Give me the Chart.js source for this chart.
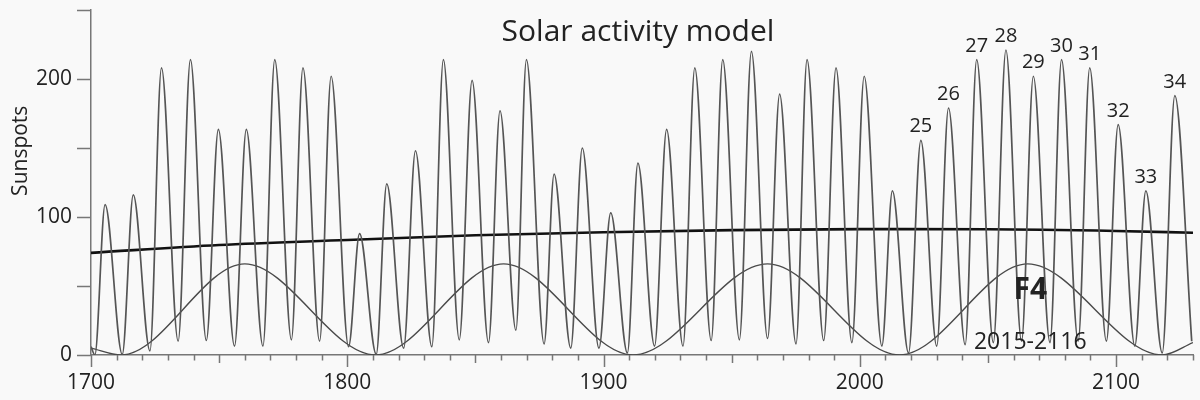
<!DOCTYPE html>
<html>
<head>
<meta charset="utf-8">
<script src="https://cdn.jsdelivr.net/npm/chart.js@4"></script>
<style>
  html, body { margin: 0; padding: 0; background: #f9f9f9; }
  #wrap { width: 1200px; height: 400px; position: relative; }
</style>
</head>
<body>
<div id="wrap"><canvas id="solar"></canvas></div>
<script>
// sunspot model: alternating minima / maxima
const sunYears = [
  1700, 1701.5, 1705.5, 1712.2, 1716.5, 1723, 1727.5, 1734, 1738.8, 1745,
  1749.7, 1756, 1760.6, 1767.1, 1771.7, 1778.2, 1782.7, 1789.2, 1793.7, 1800.5,
  1804.8, 1811.3, 1815.4, 1822, 1826.6, 1833, 1837.5, 1843.7, 1848.7, 1855.1,
  1859.6, 1865.8, 1869.9, 1876.8, 1880.7, 1887.2, 1891.7, 1898.2, 1902.8, 1909.3,
  1913.4, 1919.9, 1924.6, 1931, 1935.6, 1942, 1946.5, 1953, 1957.7, 1964,
  1968.7, 1975.1, 1979.4, 1985.9, 1990.7, 1996.9, 2001.7, 2008.6, 2012.7, 2019,
  2023.8, 2030, 2034.6, 2041.1, 2045.6, 2052.1, 2057, 2063.1, 2067.7, 2074.2,
  2078.7, 2085.2, 2089.7, 2096.2, 2100.8, 2107.3, 2111.6, 2118, 2122.9, 2129.5
];
const sunValues = [
  6, 0, 109, 0.5, 116, 3, 208, 10, 214, 10.5,
  163.5, 6.5, 163.5, 6.5, 214, 11, 208, 10, 202, 6,
  88, 0.5, 124, 5, 148, 6, 214, 11, 199, 9,
  177, 18, 214, 8, 131, 5, 150, 5, 103, 1.5,
  139, 6.5, 163.5, 6.5, 208, 10.5, 214, 11, 220, 12,
  189, 8, 214, 10.5, 208, 9, 202, 6.5, 119, 1.5,
  155.5, 6.5, 179, 7.5, 214, 9, 221, 10, 202, 9,
  214, 10, 208, 10, 167, 6.5, 119, 1.5, 188, 10
];

// slow trend
const trendYears  = [1700, 1750, 1800, 1850, 1900, 1950, 2000, 2050, 2100, 2130];
const trendValues = [74, 79.7, 83.3, 86.8, 89, 90.5, 91.2, 91.1, 89.9, 88.6];

// F4 long cycle
const f4Years  = [1700, 1711.8, 1760, 1811, 1861, 1911.5, 1964, 2015.5, 2065.5, 2118, 2130];
const f4Values = [5, 0, 66, 0, 66, 0, 66, 0, 66, 0, 9];

// numbered cycles 25..34
const cycleNames = ['25', '26', '27', '28', '29', '30', '31', '32', '33', '34'];
const cycleYears = [2023.8, 2034.6, 2045.6, 2057, 2067.7, 2078.7, 2089.7, 2100.8, 2111.6, 2122.9];

const xTicksLabelled = [1700, 1800, 1900, 2000, 2100];
const yTicksLabelled = [0, 100, 200];

const FONT = "'Open Sans', sans-serif";
const INK  = '#222';
const AXIS = '#777';

const pts = (xs, ys) => xs.map((x, i) => ({ x, y: ys[i] }));

// background + hand-drawn tick marks (length varies per tick)
const frame = {
  id: 'frame',
  beforeDraw(chart) {
    const { ctx, width, height } = chart;
    ctx.save();
    ctx.fillStyle = '#f9f9f9';
    ctx.fillRect(0, 0, width, height);
    ctx.restore();
  },
  afterDraw(chart) {
    const { ctx, scales: { x, y }, chartArea } = chart;
    ctx.save();
    ctx.strokeStyle = AXIS;
    ctx.lineWidth = 1.5;
    ctx.beginPath();
    x.ticks.forEach(t => {
      const px = Math.round(x.getPixelForValue(t.value)) + 0.5;
      const len = t.value % 100 === 0 ? 12 : (t.value % 50 === 0 ? 8 : 5.5);
      ctx.moveTo(px, chartArea.bottom);
      ctx.lineTo(px, chartArea.bottom + len);
    });
    y.ticks.forEach(t => {
      const py = Math.round(y.getPixelForValue(t.value)) + 0.5;
      ctx.moveTo(chartArea.left, py);
      ctx.lineTo(chartArea.left - 14, py);
    });
    ctx.stroke();

    // texts
    ctx.fillStyle = INK;
    ctx.textAlign = 'center';
    ctx.textBaseline = 'alphabetic';
    ctx.font = `30px ${FONT}`;
    ctx.fillText('Solar activity model', 638, 41);

    ctx.font = `20px ${FONT}`;
    cycleNames.forEach((n, i) => {
      const k = sunYears.indexOf(cycleYears[i]);
      const px = x.getPixelForValue(cycleYears[i]);
      const py = y.getPixelForValue(sunValues[k]);
      ctx.fillText(n, px, py - 8);
    });

    ctx.font = `bold 30px ${FONT}`;
    ctx.textBaseline = 'middle';
    ctx.fillText('F4', x.getPixelForValue(2066.5), y.getPixelForValue(47));
    ctx.font = `23px ${FONT}`;
    ctx.fillText('2015-2116', x.getPixelForValue(2066.5), y.getPixelForValue(9));

    // y title, centred on the 150 tick
    ctx.save();
    ctx.translate(21, y.getPixelForValue(148));
    ctx.rotate(-Math.PI / 2);
    ctx.font = `21px ${FONT}`;
    ctx.fillText('Sunspots', 0, 0);
    ctx.restore();
    ctx.restore();
  }
};

new Chart(document.getElementById('solar'), {
  type: 'line',
  plugins: [frame],
  data: {
    datasets: [
      {
        label: 'Sunspots',
        data: pts(sunYears, sunValues),
        borderColor: '#555',
        borderWidth: 1.7,
        pointRadius: 0,
        cubicInterpolationMode: 'monotone',
      },
      {
        label: 'F4',
        data: pts(f4Years, f4Values),
        borderColor: '#4a4a4a',
        borderWidth: 1.4,
        pointRadius: 0,
        cubicInterpolationMode: 'monotone',
      },
      {
        label: 'Trend',
        data: pts(trendYears, trendValues),
        borderColor: '#111',
        borderWidth: 2.6,
        pointRadius: 0,
        cubicInterpolationMode: 'monotone',
      },
    ]
  },
  options: {
    responsive: true,
    maintainAspectRatio: false,
    animation: false,
    layout: { padding: { top: 10, right: 7, left: 0, bottom: 0 } },
    plugins: { legend: { display: false }, tooltip: { enabled: false } },
    scales: {
      x: {
        type: 'linear',
        min: 1700, max: 2130,
        grid: { drawOnChartArea: false, drawTicks: false },
        border: { color: AXIS, width: 1.5 },
        ticks: {
          stepSize: 10, autoSkip: false, maxRotation: 0, padding: 15,
          color: INK, font: { family: FONT, size: 21 },
          callback: v => xTicksLabelled.includes(v) ? String(v) : ''
        },
        afterFit(s) { s.height = 45; s.paddingLeft = 0; s.paddingRight = 0; }
      },
      y: {
        min: 0, max: 250,
        grid: { drawOnChartArea: false, drawTicks: false },
        border: { color: AXIS, width: 1.5 },
        ticks: {
          stepSize: 50, padding: 19,
          color: INK, font: { family: FONT, size: 21 },
          callback: v => yTicksLabelled.includes(v) ? String(v) : ''
        },
        afterFit(s) { s.width = 91; s.paddingTop = 0; s.paddingBottom = 0; }
      }
    }
  }
});
</script>
</body>
</html>
